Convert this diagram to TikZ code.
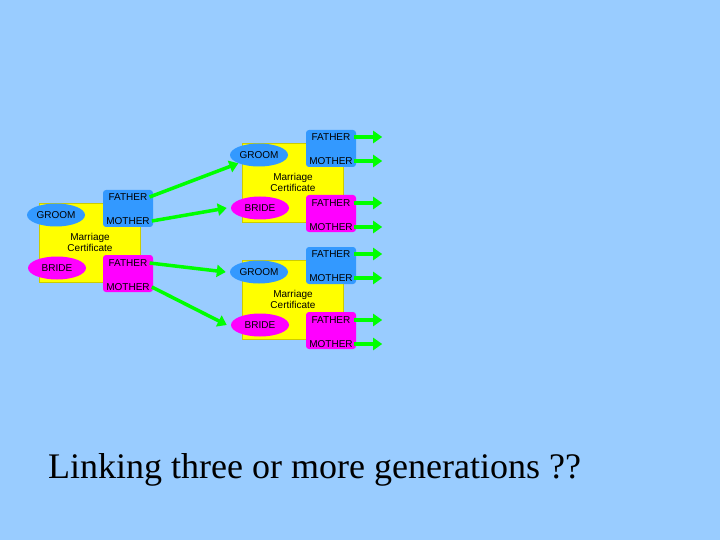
\documentclass[tikz,border=0pt]{standalone}
\usepackage{fontspec}
\setmainfont{Liberation Serif}
\newfontfamily\sansf{Liberation Sans}
\usetikzlibrary{arrows.meta}
\definecolor{bg}{RGB}{153,204,255}
\definecolor{ylw}{RGB}{255,255,0}
\definecolor{blu}{RGB}{51,153,255}
\definecolor{mag}{RGB}{255,0,255}
\definecolor{grn}{RGB}{0,255,0}
\begin{document}
\begin{tikzpicture}[x=1pt,y=-1pt,
  cert/.style={fill=ylw,draw=ylw!80!black,line width=0.4pt,minimum width=101pt,minimum height=79pt,inner sep=0pt,font=\sansf\fontsize{10}{11}\selectfont,align=center},
  ell/.style={ellipse,draw=none,minimum width=58pt,minimum height=23pt,inner sep=0pt,font=\sansf\fontsize{10}{11}\selectfont},
  par/.style={rounded corners=3pt,minimum width=50pt,minimum height=37pt,inner sep=0pt},
  lbl/.style={font=\sansf\fontsize{10}{11}\selectfont,inner sep=0pt},
  garr/.style={draw=grn!60!black,line width=0.3pt,fill=grn},
  link/.style={-{Triangle[width=12pt,length=9pt]},line width=3.5pt,grn}]
\usetikzlibrary{shapes.geometric}
\fill[bg] (0,0) rectangle (720,540);
\useasboundingbox (0,0) rectangle (720,540);
% unit macro via loops
\foreach \ux/\uy/\nm in {0/0/L,203/-60/A,203/57/B}{
  \node[cert] (\nm c) at (90+\ux,242.5+\uy) {Marriage\\Certificate};
  \node[par,fill=blu] (\nm f) at (128+\ux,208.5+\uy) {};
  \node[par,fill=mag] (\nm m) at (128+\ux,273.5+\uy) {};
  \node[lbl] (\nm fa) at (128+\ux,197+\uy) {FATHER};
  \node[lbl] (\nm fm) at (128+\ux,221+\uy) {MOTHER};
  \node[lbl] (\nm ma) at (128+\ux,263+\uy) {FATHER};
  \node[lbl] (\nm mm) at (128+\ux,287+\uy) {MOTHER};
  \node[ell,fill=blu] (\nm g) at (56+\ux,215+\uy) {GROOM};
  \node[ell,fill=mag] (\nm b) at (57+\ux,268+\uy) {BRIDE};
}
\foreach \nm in {A,B}{
  \foreach \t in {fa,fm,ma,mm}{
    \coordinate (\nm\t e) at ([xshift=31pt]\nm\t.center -| \nm f.east);
    \draw[link] ([xshift=-2pt]\nm\t.center -| \nm f.east) -- ([xshift=26pt]\nm\t.center -| \nm f.east);
  }
}
\draw[link] ([xshift=2pt]Lfa.east) -- (Ag.south west);
\draw[link] ([xshift=2pt]Lfm.east) -- ([xshift=-4pt]Ab.west);
\draw[link] ([xshift=2pt]Lma.east) -- ([xshift=-4pt]Bg.west);
\draw[link] ([xshift=2pt]Lmm.east) -- ([xshift=-4pt]Bb.west);
\node[font=\fontsize{36}{40}\selectfont,anchor=base west,inner sep=0pt] (t) at (48,478) {Linking three or more generations ??};
\end{tikzpicture}
\end{document}
